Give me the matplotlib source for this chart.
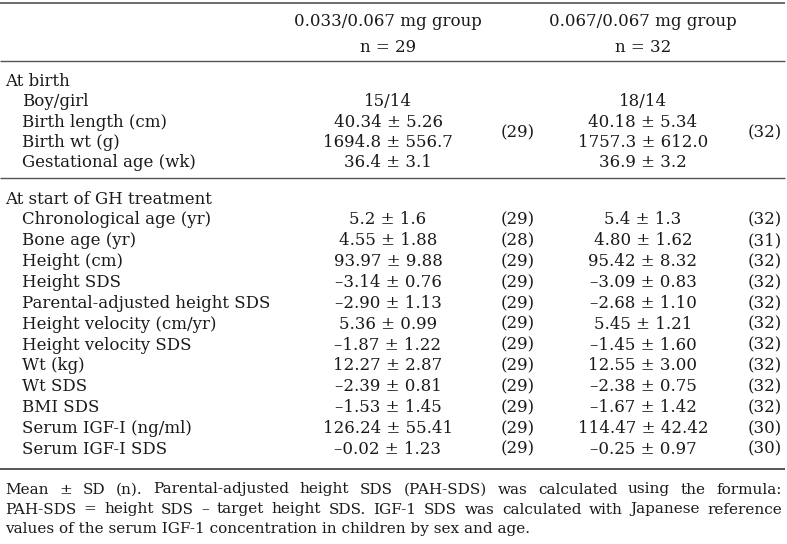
import matplotlib.pyplot as plt

plt.rcParams['font.family'] = ['DejaVu Serif']

# Table content
group_titles = ["0.033/0.067 mg group", "0.067/0.067 mg group"]
group_n = ["n = 29", "n = 32"]

birth_title = "At birth"
birth_labels = ["Boy/girl", "Birth length (cm)", "Birth wt (g)", "Gestational age (wk)"]
birth_g1 = ["15/14", "40.34 ± 5.26", "1694.8 ± 556.7", "36.4 ± 3.1"]
birth_g2 = ["18/14", "40.18 ± 5.34", "1757.3 ± 612.0", "36.9 ± 3.2"]
birth_n1 = "(29)"
birth_n2 = "(32)"

gh_title = "At start of GH treatment"
gh_labels = ["Chronological age (yr)", "Bone age (yr)", "Height (cm)", "Height SDS",
             "Parental-adjusted height SDS", "Height velocity (cm/yr)",
             "Height velocity SDS", "Wt (kg)", "Wt SDS", "BMI SDS",
             "Serum IGF-I (ng/ml)", "Serum IGF-I SDS"]
gh_g1 = ["5.2 ± 1.6", "4.55 ± 1.88", "93.97 ± 9.88", "–3.14 ± 0.76", "–2.90 ± 1.13",
         "5.36 ± 0.99", "–1.87 ± 1.22", "12.27 ± 2.87", "–2.39 ± 0.81", "–1.53 ± 1.45",
         "126.24 ± 55.41", "–0.02 ± 1.23"]
gh_n1 = ["(29)", "(28)", "(29)", "(29)", "(29)", "(29)", "(29)", "(29)", "(29)", "(29)",
         "(29)", "(29)"]
gh_g2 = ["5.4 ± 1.3", "4.80 ± 1.62", "95.42 ± 8.32", "–3.09 ± 0.83", "–2.68 ± 1.10",
         "5.45 ± 1.21", "–1.45 ± 1.60", "12.55 ± 3.00", "–2.38 ± 0.75", "–1.67 ± 1.42",
         "114.47 ± 42.42", "–0.25 ± 0.97"]
gh_n2 = ["(32)", "(31)", "(32)", "(32)", "(32)", "(32)", "(32)", "(32)", "(32)", "(32)",
         "(30)", "(30)"]

footnote = [
    "Mean ± SD (n). Parental-adjusted height SDS (PAH-SDS) was calculated using the formula:",
    "PAH-SDS = height SDS – target height SDS. IGF-1 SDS was calculated with Japanese reference",
    "values of the serum IGF-1 concentration in children by sex and age.",
]

W, H = 787, 544
fig = plt.figure(figsize=(W / 100, H / 100), dpi=100)
ax = fig.add_axes([0, 0, 1, 1])
ax.set_xlim(0, W)
ax.set_ylim(H, 0)
ax.axis('off')

fs = 12
fs_note = 11
col_label, col_sub = 5, 22
col_g1, col_n1 = 388, 518
col_g2, col_n2 = 643, 765
line_col = '#555555'
txt_col = '#1a1a1a'


def put(x, y, s, ha='left', size=fs):
    return ax.text(x, y, s, ha=ha, va='center_baseline', fontsize=size, color=txt_col)


# rules
for y, lw in [(3, 1.2), (61, 1.0), (178, 1.0), (469, 1.4)]:
    ax.plot([0, W - 2], [y, y], color=line_col, lw=lw, solid_capstyle='butt')

# header
for cx, t, n in zip([col_g1, col_g2], group_titles, group_n):
    put(cx, 20, t, ha='center')
    put(cx, 45, n, ha='center')

# at birth
put(col_label, 80, birth_title)
for i, lab in enumerate(birth_labels):
    y = 100 + i * 20.3
    put(col_sub, y, lab)
    put(col_g1, y, birth_g1[i], ha='center')
    put(col_g2, y, birth_g2[i], ha='center')
put(col_n1, 130.5, birth_n1, ha='center')
put(col_n2, 130.5, birth_n2, ha='center')

# at start of GH treatment
put(col_label, 197, gh_title)
for i, lab in enumerate(gh_labels):
    y = 218 + i * 20.85
    put(col_sub, y, lab)
    put(col_g1, y, gh_g1[i], ha='center')
    put(col_n1, y, gh_n1[i], ha='center')
    put(col_g2, y, gh_g2[i], ha='center')
    put(col_n2, y, gh_n2[i], ha='center')

# footnote, justified
fig.canvas.draw()
renderer = fig.canvas.get_renderer()
x0, x1 = 5, 782
for k, line in enumerate(footnote):
    y = 488 + k * 20
    if k == len(footnote) - 1:
        put(x0, y, line, size=fs_note)
        continue
    words = line.split(' ')
    size = fs_note
    while True:
        texts = [put(0, y, w, size=size) for w in words]
        widths = [t.get_window_extent(renderer).width for t in texts]
        gap = (x1 - x0 - sum(widths)) / (len(words) - 1)
        if gap >= 3 or size < 9:
            break
        for t in texts:
            t.remove()
        size -= 0.25
    x = x0
    for t, w in zip(texts, widths):
        t.set_x(x)
        x += w + gap

fig.savefig('out.png', dpi=100)
